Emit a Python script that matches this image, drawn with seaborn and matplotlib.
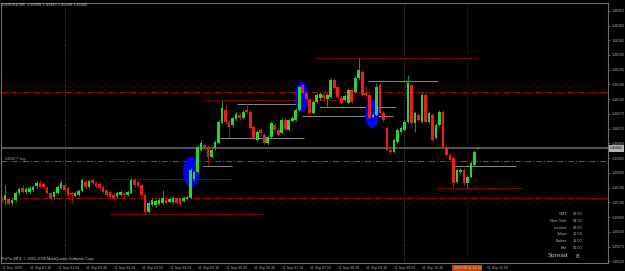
import matplotlib
matplotlib.use('Agg')
import matplotlib.pyplot as plt
from matplotlib.patches import Ellipse
import seaborn as sns
import pandas as pd
import numpy as np

# EURUSD M5, 11 Sep 2009, bars from 00:30 to 11:50
opens = [1.45757, 1.45749, 1.45753, 1.45738, 1.45749, 1.45775, 1.45794, 1.45779, 1.45779, 1.45786,
         1.45801, 1.45812, 1.45809, 1.45794, 1.45775, 1.45760, 1.45775, 1.45794, 1.45805, 1.45794,
         1.45775, 1.45764, 1.45768, 1.45783, 1.45816, 1.45797, 1.45823, 1.45812, 1.45809, 1.45797,
         1.45786, 1.45779, 1.45768, 1.45764, 1.45768, 1.45775, 1.45768, 1.45775, 1.45823, 1.45816,
         1.45805, 1.45768, 1.45704, 1.45731, 1.45731, 1.45734, 1.45738, 1.45749, 1.45742, 1.45742,
         1.45757, 1.45757, 1.45745, 1.45753, 1.45757, 1.45827, 1.45854, 1.45936, 1.45954, 1.45947,
         1.45910, 1.45943, 1.45962, 1.46036, 1.46085, 1.46040, 1.46029, 1.46051, 1.46066, 1.46055,
         1.46085, 1.46077, 1.46021, 1.45973, 1.46010, 1.45992, 1.45962, 1.45984, 1.46029, 1.46010,
         1.45999, 1.46047, 1.46010, 1.46044, 1.46047, 1.46085, 1.46178, 1.46148, 1.46126, 1.46074,
         1.46115, 1.46130, 1.46141, 1.46126, 1.46133, 1.46197, 1.46171, 1.46130, 1.46122, 1.46111,
         1.46159, 1.46152, 1.46204, 1.46226, 1.46148, 1.46141, 1.46059, 1.46066, 1.46178, 1.46074,
         1.46018, 1.45936, 1.45928, 1.45965, 1.46003, 1.46010, 1.46040, 1.46178, 1.46036, 1.46066,
         1.46040, 1.46141, 1.46040, 1.46066, 1.45980, 1.46029, 1.46077, 1.45947, 1.45917, 1.45906,
         1.45816, 1.45854, 1.45861, 1.45812, 1.45835, 1.45880, 1.45938]
highs = [1.45764, 1.45805, 1.45760, 1.45757, 1.45783, 1.45797, 1.45805, 1.45797, 1.45801, 1.45805,
         1.45820, 1.45823, 1.45816, 1.45801, 1.45783, 1.45786, 1.45805, 1.45823, 1.45812, 1.45801,
         1.45783, 1.45783, 1.45790, 1.45831, 1.45823, 1.45827, 1.45831, 1.45820, 1.45816, 1.45805,
         1.45790, 1.45786, 1.45775, 1.45783, 1.45786, 1.45783, 1.45786, 1.45831, 1.45831, 1.45823,
         1.45809, 1.45775, 1.45745, 1.45757, 1.45753, 1.45760, 1.45786, 1.45757, 1.45760, 1.45764,
         1.45764, 1.45764, 1.45764, 1.45768, 1.45869, 1.45861, 1.45954, 1.45973, 1.45962, 1.45954,
         1.45943, 1.45973, 1.46047, 1.46122, 1.46103, 1.46047, 1.46062, 1.46077, 1.46074, 1.46085,
         1.46107, 1.46085, 1.46029, 1.46010, 1.46018, 1.45999, 1.45992, 1.46044, 1.46036, 1.46018,
         1.46055, 1.46055, 1.46055, 1.46062, 1.46092, 1.46178, 1.46186, 1.46156, 1.46133, 1.46122,
         1.46148, 1.46152, 1.46148, 1.46148, 1.46204, 1.46204, 1.46178, 1.46137, 1.46144, 1.46167,
         1.46167, 1.46212, 1.46279, 1.46234, 1.46174, 1.46148, 1.46074, 1.46186, 1.46186, 1.46081,
         1.46025, 1.45943, 1.45980, 1.46018, 1.46025, 1.46047, 1.46215, 1.46186, 1.46081, 1.46074,
         1.46148, 1.46148, 1.46081, 1.46074, 1.46036, 1.46085, 1.46085, 1.45954, 1.45924, 1.45913,
         1.45869, 1.45869, 1.45869, 1.45842, 1.45895, 1.45936, 1.45943]
lows = [1.45745, 1.45731, 1.45731, 1.45731, 1.45742, 1.45768, 1.45775, 1.45771, 1.45775, 1.45779,
        1.45794, 1.45794, 1.45790, 1.45771, 1.45749, 1.45753, 1.45771, 1.45790, 1.45779, 1.45764,
        1.45738, 1.45760, 1.45764, 1.45779, 1.45790, 1.45794, 1.45809, 1.45794, 1.45786, 1.45775,
        1.45760, 1.45757, 1.45753, 1.45757, 1.45764, 1.45760, 1.45764, 1.45771, 1.45797, 1.45797,
        1.45764, 1.45697, 1.45701, 1.45727, 1.45723, 1.45731, 1.45731, 1.45734, 1.45738, 1.45734,
        1.45731, 1.45731, 1.45742, 1.45749, 1.45753, 1.45820, 1.45850, 1.45932, 1.45936, 1.45880,
        1.45906, 1.45936, 1.45958, 1.46033, 1.46033, 1.45984, 1.46021, 1.46044, 1.46047, 1.46051,
        1.46070, 1.46014, 1.45977, 1.45969, 1.45992, 1.45958, 1.45954, 1.45980, 1.46003, 1.45988,
        1.45995, 1.46010, 1.46006, 1.46040, 1.46044, 1.46081, 1.46144, 1.46122, 1.46070, 1.46070,
        1.46111, 1.46122, 1.46122, 1.46096, 1.46130, 1.46163, 1.46130, 1.46107, 1.46118, 1.46107,
        1.46111, 1.46148, 1.46197, 1.46137, 1.46133, 1.46051, 1.46055, 1.46062, 1.46070, 1.46040,
        1.45932, 1.45921, 1.45924, 1.45962, 1.45999, 1.46006, 1.46036, 1.46033, 1.46003, 1.46044,
        1.46036, 1.46036, 1.46036, 1.45969, 1.45977, 1.46025, 1.45939, 1.45913, 1.45895, 1.45794,
        1.45812, 1.45846, 1.45805, 1.45794, 1.45831, 1.45876, 1.45938]
closes = [1.45749, 1.45768, 1.45734, 1.45749, 1.45775, 1.45790, 1.45779, 1.45790, 1.45794, 1.45797,
          1.45812, 1.45797, 1.45797, 1.45775, 1.45757, 1.45779, 1.45797, 1.45812, 1.45786, 1.45768,
          1.45768, 1.45775, 1.45783, 1.45823, 1.45797, 1.45820, 1.45812, 1.45801, 1.45794, 1.45779,
          1.45768, 1.45760, 1.45757, 1.45775, 1.45779, 1.45768, 1.45779, 1.45823, 1.45805, 1.45801,
          1.45768, 1.45704, 1.45738, 1.45749, 1.45745, 1.45749, 1.45757, 1.45738, 1.45753, 1.45757,
          1.45738, 1.45734, 1.45757, 1.45760, 1.45861, 1.45854, 1.45947, 1.45962, 1.45943, 1.45910,
          1.45936, 1.45965, 1.46040, 1.46092, 1.46040, 1.46021, 1.46055, 1.46070, 1.46055, 1.46077,
          1.46077, 1.46018, 1.45980, 1.46003, 1.45999, 1.45962, 1.45984, 1.46036, 1.46010, 1.45992,
          1.46047, 1.46014, 1.46047, 1.46055, 1.46085, 1.46171, 1.46148, 1.46126, 1.46074, 1.46115,
          1.46141, 1.46144, 1.46130, 1.46141, 1.46197, 1.46167, 1.46133, 1.46111, 1.46137, 1.46159,
          1.46115, 1.46204, 1.46234, 1.46141, 1.46141, 1.46055, 1.46066, 1.46171, 1.46074, 1.46047,
          1.45936, 1.45928, 1.45973, 1.46010, 1.46018, 1.46040, 1.46186, 1.46036, 1.46074, 1.46047,
          1.46141, 1.46040, 1.46074, 1.45973, 1.46029, 1.46077, 1.45943, 1.45917, 1.45898, 1.45812,
          1.45861, 1.45861, 1.45812, 1.45835, 1.45887, 1.45928, 1.45942]

price_ticks = [1.46455, 1.46400, 1.46345, 1.46290, 1.46235, 1.46180, 1.46125, 1.46070, 1.46015,
               1.45960, 1.45905, 1.45850, 1.45795, 1.45740, 1.45685, 1.45630, 1.45575, 1.45520]

# full width horizontal lines
red_levels = [1.46152, 1.45757]
order_level = 1.45895
order_label = '#4936?7 buy'

# short trend lines: (price, from bar, to bar)
red_segments = [(1.46279, 89.5, 135.8), (1.46122, 57.5, 96.7), (1.45827, 31, 65.8),
                (1.45697, 31, 75.2), (1.45794, 123.8, 148.9)]
gray_segments = [(1.46107, 67.3, 85.2), (1.45980, 62.4, 86.4), (1.46096, 90.7, 112.6),
                 (1.46062, 85.8, 111.8), (1.46193, 104.7, 124.7), (1.45876, 128.9, 146.9),
                 (1.45876, 57.2, 65.8)]
# ellipses: (bar, price, width in bars, height in price)
ellipses = [(54.2, 1.45854, 4.9, 0.00112), (85.7, 1.46133, 3.7, 0.00112), (105.8, 1.46070, 4.0, 0.00104)]
vlines_gray = [18, 115]
vline_sel = 133

clock_names = ['GMT:', 'New York:', 'London:', 'Tokyo:', 'Broker:', 'Bar:']
clock_times = ['08:50', '04:50', '09:50', '17:50', '11:50', '00:00']
spread = 8

bar_times = pd.date_range('2009-09-11 00:30', periods=len(opens), freq='5min')
df = pd.DataFrame({'time': bar_times, 'open': opens, 'high': highs, 'low': lows, 'close': closes})
df['bar'] = np.arange(len(df))
df['bull'] = df['close'] >= df['open']

sns.set_theme(style='dark', rc={'axes.facecolor': 'black', 'figure.facecolor': 'black',
                                'axes.edgecolor': '#6e6e6e', 'xtick.color': '#8a8a8a',
                                'ytick.color': '#8a8a8a'})
plt.rcParams['font.family'] = ['Liberation Sans', 'DejaVu Sans']

fig = plt.figure(figsize=(6.25, 2.71), dpi=100)
ax = fig.add_axes([1/625, 8/271, 607/625, 260/271])
ax.set_facecolor('black')

# objects under the candles
for bx, by, w, h in ellipses:
    ax.add_patch(Ellipse((bx, by), w, h, color='#0000ff', lw=0, zorder=2))
for lv in red_levels:
    ax.axhline(lv, color='#c00000', lw=0.7, ls=(0, (6, 2, 1, 2)), zorder=1)
ax.axhline(order_level, color='#1f8a1f', lw=0.7, ls=(0, (6, 2, 1, 2)), zorder=1)
ax.axhline(closes[-1], color='#555555', lw=1.4, zorder=1)
for v in vlines_gray:
    ax.axvline(v, color='#6a6a6a', lw=0.6, ls=(0, (1, 2)), zorder=1)
ax.axvline(vline_sel, color='#8a1a1a', lw=0.6, ls=(0, (1, 2)), zorder=1)
for p, a, b in red_segments:
    ax.hlines(p, a, b, color='#b00000', lw=0.7, ls=(0, (2, 1)), zorder=1)
for p, a, b in gray_segments:
    ax.hlines(p, a, b, color='#8c8c8c', lw=0.7, zorder=1)

# candles
body_col = {True: '#2ed22e', False: '#f01c1c'}
wick_col = {True: '#2a8f2a', False: '#b41414'}
for bull, sub in df.groupby('bull'):
    ax.vlines(sub['bar'], sub['low'], sub['high'], color=wick_col[bull], lw=0.7, zorder=3)
    h = (sub['close'] - sub['open']).abs().clip(lower=0.00003)
    ax.bar(sub['bar'], h, bottom=sub[['open', 'close']].min(axis=1), width=0.72,
           color=body_col[bull], lw=0, zorder=4)

ax.set_xlim(-0.2, 173.2)
ax.set_ylim(1.45514, 1.46484)

# axes
ax.yaxis.tick_right()
ax.set_yticks(price_ticks)
ax.set_yticklabels([f'{p:.5f}' for p in price_ticks], fontsize=2.6, color='#a8a8a8')
ax.tick_params(axis='y', length=1.5, width=0.5, pad=1.2)
# 11:10 label sits under the selected-line time box; 11:50 label is drawn after the box
xt = list(range(0, len(df), 8))
xl = ['11 Sep 2009'] + [df['time'][i].strftime('11 Sep %H:%M') for i in xt[1:]]
xl[-2] = ''
xl[-1] = ''
ax.set_xticks(xt)
ax.set_xticklabels(xl, fontsize=2.6, color='#a8a8a8')
for t in ax.get_xticklabels():
    t.set_ha('left')
ax.tick_params(axis='x', length=1.5, width=0.5, pad=0.8)
ax.text(138.6, -0.012, df['time'][xt[-1]].strftime('11 Sep %H:%M'), transform=ax.get_xaxis_transform(),
        fontsize=2.6, color='#a8a8a8', ha='left', va='top', clip_on=False)
ax.set_xlabel('')
ax.set_ylabel('')
ax.grid(False)
for s in ax.spines.values():
    s.set_linewidth(0.8)
    s.set_color('#6e6e6e')

# current price and selected line time
ax.text(1.003, closes[-1], f'{closes[-1]:.5f}', transform=ax.get_yaxis_transform(),
        fontsize=2.6, color='black', ha='left', va='center', clip_on=False,
        bbox=dict(boxstyle='square,pad=0.35', fc='#b4b4b4', ec='none'))
sel_time = (df['time'][0] + pd.Timedelta(minutes=5 * vline_sel)).strftime('%Y.%m.%d %H:%M')
ax.text(vline_sel, -0.012, sel_time, transform=ax.get_xaxis_transform(), fontsize=2.6,
        color='#ffc89a', ha='center', va='top', clip_on=False, zorder=10,
        bbox=dict(boxstyle='square,pad=0.4', fc='#c8420e', ec='none'))
ax.text(1, order_level, order_label, fontsize=2.6, color='#9a9a9a', ha='left', va='bottom')
ax.text(115.4, 1.46122, 'London Open', rotation=90, fontsize=2.6, color='#5a5a5a',
        ha='left', va='bottom')

# header / footer
fig.text(2/625, 1 - 5/271, 'EURUSD,M5  ' + ' '.join(f'{v:.5f}' for v in
         (opens[-1], highs[-1], lows[-1], closes[-1])), fontsize=2.8, color='#c8c8c8', va='center')
fig.text(2/625, 1 - 259/271, 'FxPro MT4, © 2001-2009 MetaQuotes Software Corp.',
         fontsize=2.8, color='#c8c8c8', va='center')
for k, (n, t) in enumerate(zip(clock_names, clock_times)):
    yy = 1 - (214 + 6.8 * k) / 271
    fig.text(568/625, yy, n, fontsize=2.8, color='#b4b4b4', ha='right', va='center')
    fig.text(573/625, yy, t, fontsize=2.8, color='#b4b4b4', ha='left', va='center')
fig.text(548/625, 1 - 256/271, 'Spread', fontsize=4.6, color='#c0c0c0', va='center')
fig.text(576/625, 1 - 256/271, str(spread), fontsize=4.6, color='#c0c0c0', va='center')

fig.savefig('out.png', dpi=100, facecolor='black')
